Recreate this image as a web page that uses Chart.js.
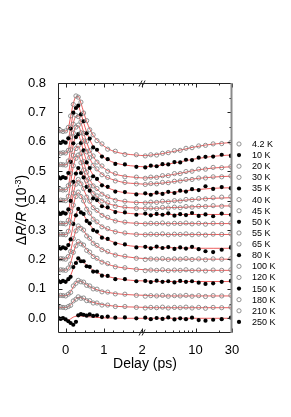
<!DOCTYPE html>
<html>
<head>
<meta charset="utf-8">
<script src="https://cdn.jsdelivr.net/npm/chart.js@4.4.1/dist/chart.umd.min.js"></script>
<style>
html, body { margin: 0; padding: 0; background: #fff; }
#wrap { width: 291px; height: 417px; position: relative; }
</style>
</head>
<body>
<div id="wrap"><canvas id="c"></canvas></div>
<script>
// delays (ps): linear part up to 2 ps, log part after the break
var fastDelays = [-0.2,-0.13,-0.07,0,0.07,0.13,0.2,0.27,0.33,0.4,0.47,0.55,0.63,0.72,0.82,0.95,1.1,1.3,1.55,1.85];
var slowDelays = [2.2,2.6,3.1,3.7,4.4,5.3,6.3,7.5,9,11,13.5,17,22,29];
var fitTail = [30];

var temps  = ['4.2 K','10 K','20 K','30 K','35 K','40 K','45 K','50 K','55 K','65 K','80 K','100 K','120 K','150 K','180 K','210 K','250 K'];
var filled = [false,true,false,false,true,false,false,true,false,false,true,false,false,true,false,false,true];

var xTickDelays = [0, 1, 2, 10, 30];
var xTickLabels = ['0', '1', '2', '10', '30'];
var xMinorDelays = [0.25,0.5,0.75,1.25,1.5,1.75,3,4,5,6,7,8,9,20];
var yTicks = [0, 0.1, 0.2, 0.3, 0.4, 0.5, 0.6, 0.7, 0.8];
var yMinor = [0.05, 0.15, 0.25, 0.35, 0.45, 0.55, 0.65, 0.75];

// measured points (offset curves) and fits
var pts4K = [.636,.638,.635,.637,.649,.688,.727,.756,.752,.735,.698,.672,.641,.624,.604,.593,.575,.568,.557,.556, .552,.556,.555,.561,.563,.570,.571,.578,.580,.586,.588,.593,.594,.598];
var fit4K = [.637,.637,.637,.637,.647,.685,.730,.753,.754,.732,.701,.669,.644,.622,.607,.591,.577,.566,.559,.555, .553,.555,.557,.560,.564,.568,.572,.576,.581,.585,.589,.592,.595,.597,.597];
var pts10K = [.600,.596,.601,.597,.612,.645,.699,.715,.723,.693,.670,.629,.611,.581,.573,.550,.541,.525,.523,.515, .513,.519,.517,.524,.523,.531,.530,.539,.538,.546,.549,.550,.556,.553];
var fit10K = [.599,.599,.599,.599,.609,.649,.695,.718,.720,.697,.666,.633,.608,.585,.570,.553,.539,.528,.521,.517, .515,.517,.519,.521,.525,.528,.532,.536,.540,.544,.547,.551,.553,.555,.555];
var pts20K = [.563,.561,.563,.562,.571,.616,.660,.690,.686,.668,.629,.601,.570,.552,.531,.518,.500,.492,.481,.480, .476,.480,.479,.485,.485,.492,.492,.499,.500,.507,.507,.513,.512,.516];
var fit20K = [.562,.562,.562,.562,.573,.614,.663,.687,.689,.666,.632,.599,.572,.550,.533,.516,.502,.490,.483,.479, .477,.479,.480,.483,.486,.490,.493,.497,.501,.505,.508,.511,.513,.515,.515];
var pts30K = [.521,.523,.522,.521,.535,.573,.630,.650,.657,.631,.603,.566,.546,.520,.508,.488,.479,.467,.462,.457, .455,.458,.457,.462,.461,.466,.467,.472,.472,.477,.477,.481,.481,.484];
var fit30K = [.522,.522,.522,.522,.533,.576,.627,.652,.655,.633,.601,.569,.544,.522,.506,.490,.478,.469,.461,.458, .456,.457,.458,.460,.462,.465,.468,.470,.473,.476,.478,.480,.482,.483,.483];
var pts35K = [.481,.476,.480,.477,.494,.532,.595,.616,.626,.596,.571,.530,.511,.483,.474,.452,.447,.431,.429,.421, .425,.420,.427,.423,.430,.426,.434,.431,.439,.436,.449,.440,.446,.442];
var fit35K = [.479,.479,.479,.479,.491,.536,.591,.619,.622,.600,.567,.534,.508,.487,.471,.456,.444,.434,.427,.424, .422,.423,.424,.426,.427,.429,.431,.434,.436,.438,.440,.442,.443,.444,.444];
var pts40K = [.436,.438,.436,.437,.451,.492,.554,.577,.587,.560,.533,.497,.475,.450,.441,.422,.413,.401,.398,.393, .392,.395,.394,.398,.396,.400,.399,.404,.403,.407,.406,.410,.412,.414];
var fit40K = [.437,.437,.437,.437,.449,.495,.551,.579,.585,.563,.531,.499,.473,.452,.439,.424,.412,.403,.397,.394, .393,.394,.395,.396,.397,.399,.400,.402,.404,.405,.407,.408,.409,.410,.410];
var pts45K = [.400,.402,.401,.400,.415,.457,.519,.544,.555,.529,.504,.468,.449,.425,.416,.399,.393,.381,.378,.374, .373,.375,.373,.377,.375,.378,.376,.380,.378,.381,.380,.383,.381,.384];
var fit45K = [.401,.401,.401,.401,.413,.460,.516,.546,.553,.532,.502,.471,.447,.427,.414,.401,.391,.383,.377,.375, .374,.374,.374,.375,.376,.377,.377,.378,.379,.380,.381,.381,.382,.382,.382];
var pts50K = [.360,.355,.359,.356,.370,.399,.464,.492,.511,.494,.479,.447,.434,.408,.402,.381,.377,.361,.360,.352, .356,.350,.355,.352,.357,.349,.354,.351,.358,.348,.353,.347,.356,.352];
var fit50K = [.358,.358,.358,.358,.367,.403,.460,.496,.507,.497,.475,.451,.431,.412,.399,.384,.374,.364,.358,.355, .354,.353,.353,.353,.353,.353,.353,.353,.353,.353,.353,.353,.353,.353,.353];
var pts55K = [.321,.323,.322,.321,.333,.363,.426,.456,.472,.457,.441,.412,.398,.376,.367,.350,.343,.331,.327,.322, .321,.323,.322,.324,.321,.323,.322,.324,.321,.323,.320,.323,.322,.324];
var fit55K = [.322,.322,.322,.322,.331,.366,.423,.458,.470,.460,.439,.415,.396,.378,.365,.352,.341,.332,.326,.323, .322,.322,.322,.322,.322,.322,.322,.322,.322,.322,.322,.322,.322,.322,.322];
var pts65K = [.284,.286,.285,.284,.296,.325,.385,.414,.429,.414,.399,.371,.358,.337,.328,.311,.305,.294,.290,.285, .284,.286,.285,.287,.284,.286,.285,.287,.284,.286,.283,.286,.285,.287];
var fit65K = [.285,.285,.285,.285,.294,.328,.382,.416,.427,.417,.397,.374,.356,.339,.326,.313,.303,.295,.289,.286, .285,.285,.285,.285,.285,.285,.285,.285,.285,.285,.285,.285,.285,.285,.285];
var pts80K = [.242,.237,.241,.238,.249,.268,.321,.350,.372,.360,.355,.331,.323,.300,.295,.274,.270,.254,.251,.241, .243,.238,.244,.239,.242,.236,.241,.237,.243,.235,.228,.225,.233,.240];
var fit80K = [.240,.240,.240,.240,.246,.272,.317,.353,.368,.364,.351,.335,.319,.304,.291,.278,.267,.257,.249,.244, .242,.241,.240,.240,.240,.240,.239,.239,.239,.238,.238,.238,.238,.238,.238];
var pts100K = [.201,.203,.202,.201,.210,.227,.271,.297,.314,.306,.300,.280,.272,.255,.248,.233,.227,.215,.211,.204, .200,.202,.201,.203,.200,.202,.201,.203,.200,.202,.199,.202,.201,.203];
var fit100K = [.202,.202,.202,.202,.208,.230,.268,.299,.312,.309,.298,.283,.270,.257,.246,.235,.225,.216,.210,.205, .203,.202,.201,.201,.201,.201,.201,.201,.201,.201,.201,.201,.201,.201,.201];
var pts120K = [.163,.165,.164,.163,.171,.185,.224,.246,.261,.253,.249,.231,.225,.210,.204,.191,.186,.175,.172,.166, .162,.164,.163,.165,.162,.164,.163,.165,.162,.164,.161,.164,.163,.165];
var fit120K = [.164,.164,.164,.164,.169,.188,.221,.248,.259,.256,.247,.234,.223,.212,.202,.193,.184,.176,.171,.167, .165,.164,.163,.163,.163,.163,.163,.163,.163,.163,.163,.163,.163,.163,.163];
var pts150K = [.128,.123,.127,.124,.133,.141,.174,.188,.204,.194,.194,.177,.175,.159,.159,.145,.144,.133,.133,.126, .127,.123,.128,.124,.126,.122,.127,.124,.126,.121,.117,.119,.124,.127];
var fit150K = [.126,.126,.126,.126,.130,.145,.170,.191,.200,.198,.190,.181,.172,.163,.156,.148,.142,.136,.131,.128, .127,.126,.125,.125,.125,.125,.125,.125,.125,.125,.125,.125,.125,.125,.125];
var pts180K = [.076,.078,.077,.076,.082,.088,.110,.119,.129,.124,.123,.112,.110,.100,.099,.090,.089,.083,.082,.078, .075,.077,.076,.078,.075,.077,.076,.078,.075,.077,.074,.077,.076,.078];
var fit180K = [.077,.077,.077,.077,.080,.090,.107,.121,.127,.126,.121,.114,.108,.102,.097,.092,.088,.084,.081,.079, .078,.077,.076,.076,.076,.076,.076,.076,.076,.076,.076,.076,.076,.076,.076];
var pts210K = [.036,.038,.037,.036,.040,.044,.059,.065,.073,.068,.069,.060,.060,.052,.052,.045,.045,.040,.040,.037, .035,.037,.036,.038,.035,.037,.036,.038,.035,.037,.034,.037,.036,.038];
var fit210K = [.037,.037,.037,.037,.039,.046,.057,.067,.071,.070,.067,.062,.058,.054,.051,.047,.044,.041,.039,.038, .037,.036,.036,.036,.036,.036,.036,.036,.036,.036,.036,.036,.036,.036,.036];
var pts250K = [.002,-.002,.001,-.004,-.010,-.016,-.022,-.012,.010,.014,.012,.009,.013,.008,.010,.004,.006,.002,.003,.000, .002,-.003,.001,-.002,.003,-.004,.000,-.003,.002,-.006,-.008,-.005,-.003,.002];
var fit250K = [.000,.000,-.002,-.005,-.006,-.002,.004,.007,.008,.008,.007,.006,.005,.004,.003,.002,.001,.001,.000,.000, .000,.000,.000,.000,.000,.000,.000,.000,.000,.000,.000,.000,.000,.000,.000];

var allPts = [pts4K,pts10K,pts20K,pts30K,pts35K,pts40K,pts45K,pts50K,pts55K,pts65K,pts80K,pts100K,pts120K,pts150K,pts180K,pts210K,pts250K];
var allFits = [fit4K,fit10K,fit20K,fit30K,fit35K,fit40K,fit45K,fit50K,fit55K,fit65K,fit80K,fit100K,fit120K,fit150K,fit180K,fit210K,fit250K];

var FONT = "'Liberation Sans', Arial, sans-serif";

// broken axis: linear up to 2 ps, log10 beyond
function toAxis(t) {
	return t <= 2 ? t : 2 + 2 * Math.log10(t / 2);
}

var ptDelays = fastDelays.concat(slowDelays);
var fitDelays = fastDelays.concat(slowDelays, fitTail);

var datasets = [];
temps.forEach(function(name, i) {
	if (allPts[i].length != ptDelays.length) throw new Error('pts length ' + name);
	datasets.push({
		type: 'scatter',
		label: name,
		data: ptDelays.map(function(d, j) { return {x: toAxis(d), y: allPts[i][j]}; }),
		pointStyle: 'circle',
		pointRadius: 2.1,
		pointBorderWidth: filled[i] ? 0 : 0.9,
		pointBackgroundColor: filled[i] ? '#000' : 'rgba(0,0,0,0)',
		pointBorderColor: filled[i] ? '#000' : '#858585'
	});
});
temps.forEach(function(name, i) {
	if (allFits[i].length != fitDelays.length) throw new Error('fit length ' + name);
	datasets.push({
		type: 'line',
		label: name + ' fit',
		data: fitDelays.map(function(d, j) { return {x: toAxis(d), y: allFits[i][j]}; }),
		borderColor: 'rgba(228,40,40,0.75)',
		borderWidth: 1,
		pointRadius: 0,
		fill: false,
		cubicInterpolationMode: 'monotone'
	});
});

// frame, inward ticks, axis break, y title and legend
var decor = {
	id: 'decor',
	afterDraw: function(chart) {
		var ctx = chart.ctx, a = chart.chartArea;
		var xs = chart.scales.x, ys = chart.scales.y;
		var L = Math.round(a.left) + 0.5, R = Math.round(a.right) - 0.5;
		var T = Math.round(a.top) + 0.5, B = Math.round(a.bottom) - 0.5;
		ctx.save();
		ctx.strokeStyle = '#222';
		ctx.lineWidth = 1;
		ctx.beginPath();
		xTickDelays.forEach(function(d) {
			var px = Math.round(xs.getPixelForValue(toAxis(d))) + 0.5;
			ctx.moveTo(px, B); ctx.lineTo(px, B - 4);
			ctx.moveTo(px, T); ctx.lineTo(px, T + 4);
		});
		xMinorDelays.forEach(function(d) {
			var px = Math.round(xs.getPixelForValue(toAxis(d))) + 0.5;
			ctx.moveTo(px, B); ctx.lineTo(px, B - 2);
			ctx.moveTo(px, T); ctx.lineTo(px, T + 2);
		});
		yTicks.forEach(function(v) {
			var py = Math.round(ys.getPixelForValue(v)) + 0.5;
			ctx.moveTo(L, py); ctx.lineTo(L + 4, py);
			ctx.moveTo(R, py); ctx.lineTo(R - 4, py);
		});
		yMinor.forEach(function(v) {
			var py = Math.round(ys.getPixelForValue(v)) + 0.5;
			ctx.moveTo(L, py); ctx.lineTo(L + 2, py);
			ctx.moveTo(R, py); ctx.lineTo(R - 2, py);
		});
		ctx.moveTo(L, T); ctx.lineTo(L, B);
		ctx.moveTo(L, T); ctx.lineTo(R, T);
		ctx.moveTo(L, B); ctx.lineTo(R, B);
		ctx.stroke();
		ctx.beginPath();
		ctx.strokeStyle = '#8a8a8a';
		ctx.lineWidth = 2;
		ctx.moveTo(R, T - 0.5); ctx.lineTo(R, B + 0.5);
		ctx.stroke();

		// break marks //
		var bx = xs.getPixelForValue(toAxis(2));
		ctx.strokeStyle = '#222';
		ctx.lineWidth = 1;
		ctx.beginPath();
		[B, T].forEach(function(yy) {
			ctx.moveTo(bx - 3, yy + 3); ctx.lineTo(bx, yy - 3);
			ctx.moveTo(bx, yy + 3); ctx.lineTo(bx + 3, yy - 3);
		});
		ctx.stroke();

		// y title: ΔR/R (10^-3)
		ctx.translate(26, (a.top + a.bottom) / 2 + 2);
		ctx.rotate(-Math.PI / 2);
		ctx.fillStyle = '#000';
		ctx.textBaseline = 'alphabetic';
		var parts = [
			['\u0394', '14px ' + FONT, 0],
			['R/R', 'italic 14px ' + FONT, 0],
			[' (10', '14px ' + FONT, 0],
			['-3', '9px ' + FONT, -5.5],
			[')', '14px ' + FONT, 0]
		];
		var total = 0;
		parts.forEach(function(p) { ctx.font = p[1]; total += ctx.measureText(p[0]).width; });
		var cx = -total / 2;
		parts.forEach(function(p) {
			ctx.font = p[1];
			ctx.fillText(p[0], cx, p[2]);
			cx += ctx.measureText(p[0]).width;
		});
		ctx.restore();

		// legend
		ctx.save();
		ctx.font = '9px ' + FONT;
		ctx.textBaseline = 'middle';
		ctx.textAlign = 'left';
		temps.forEach(function(name, i) {
			var ds = chart.data.datasets[i];
			var ly = a.top + 61 + i * 11.12;
			var lx = a.right + 7;
			ctx.beginPath();
			ctx.arc(lx, ly, 2.1, 0, Math.PI * 2);
			if (filled[i]) {
				ctx.fillStyle = ds.pointBackgroundColor;
				ctx.fill();
			} else {
				ctx.strokeStyle = ds.pointBorderColor;
				ctx.lineWidth = 0.9;
				ctx.stroke();
			}
			ctx.fillStyle = '#000';
			ctx.fillText(ds.label, a.right + 20, ly + 0.5);
		});
		ctx.restore();
	}
};

new Chart(document.getElementById('c'), {
	type: 'scatter',
	data: { datasets: datasets },
	options: {
		responsive: true,
		maintainAspectRatio: false,
		animation: false,
		layout: { padding: { left: 0, top: 83, right: 59, bottom: 0 } },
		plugins: {
			legend: { display: false },
			tooltip: { enabled: false }
		},
		scales: {
			x: {
				type: 'linear',
				min: -0.2,
				max: toAxis(30),
				grid: { display: false },
				border: { display: false },
				afterBuildTicks: function(scale) {
					scale.ticks = xTickDelays.map(function(d) { return {value: toAxis(d)}; });
				},
				afterFit: function(scale) { scale.height = 84; },
				ticks: {
					autoSkip: false, maxRotation: 0, minRotation: 0, padding: 2,
					color: '#000', font: { family: FONT, size: 13 },
					callback: function(v, i) { return xTickLabels[i]; }
				},
				title: {
					display: true, text: 'Delay (ps)', color: '#000',
					font: { family: FONT, size: 14 },
					padding: { top: 0, bottom: 44 }
				}
			},
			y: {
				type: 'linear',
				min: -0.05,
				max: 0.8,
				grid: { display: false },
				border: { display: false },
				afterBuildTicks: function(scale) {
					scale.ticks = yTicks.map(function(v) { return {value: v}; });
				},
				afterFit: function(scale) { scale.width = 58; },
				ticks: {
					padding: 4, color: '#000', font: { family: FONT, size: 13 },
					callback: function(v) { return v.toFixed(1); }
				}
			}
		}
	},
	plugins: [decor]
});
</script>
</body>
</html>
